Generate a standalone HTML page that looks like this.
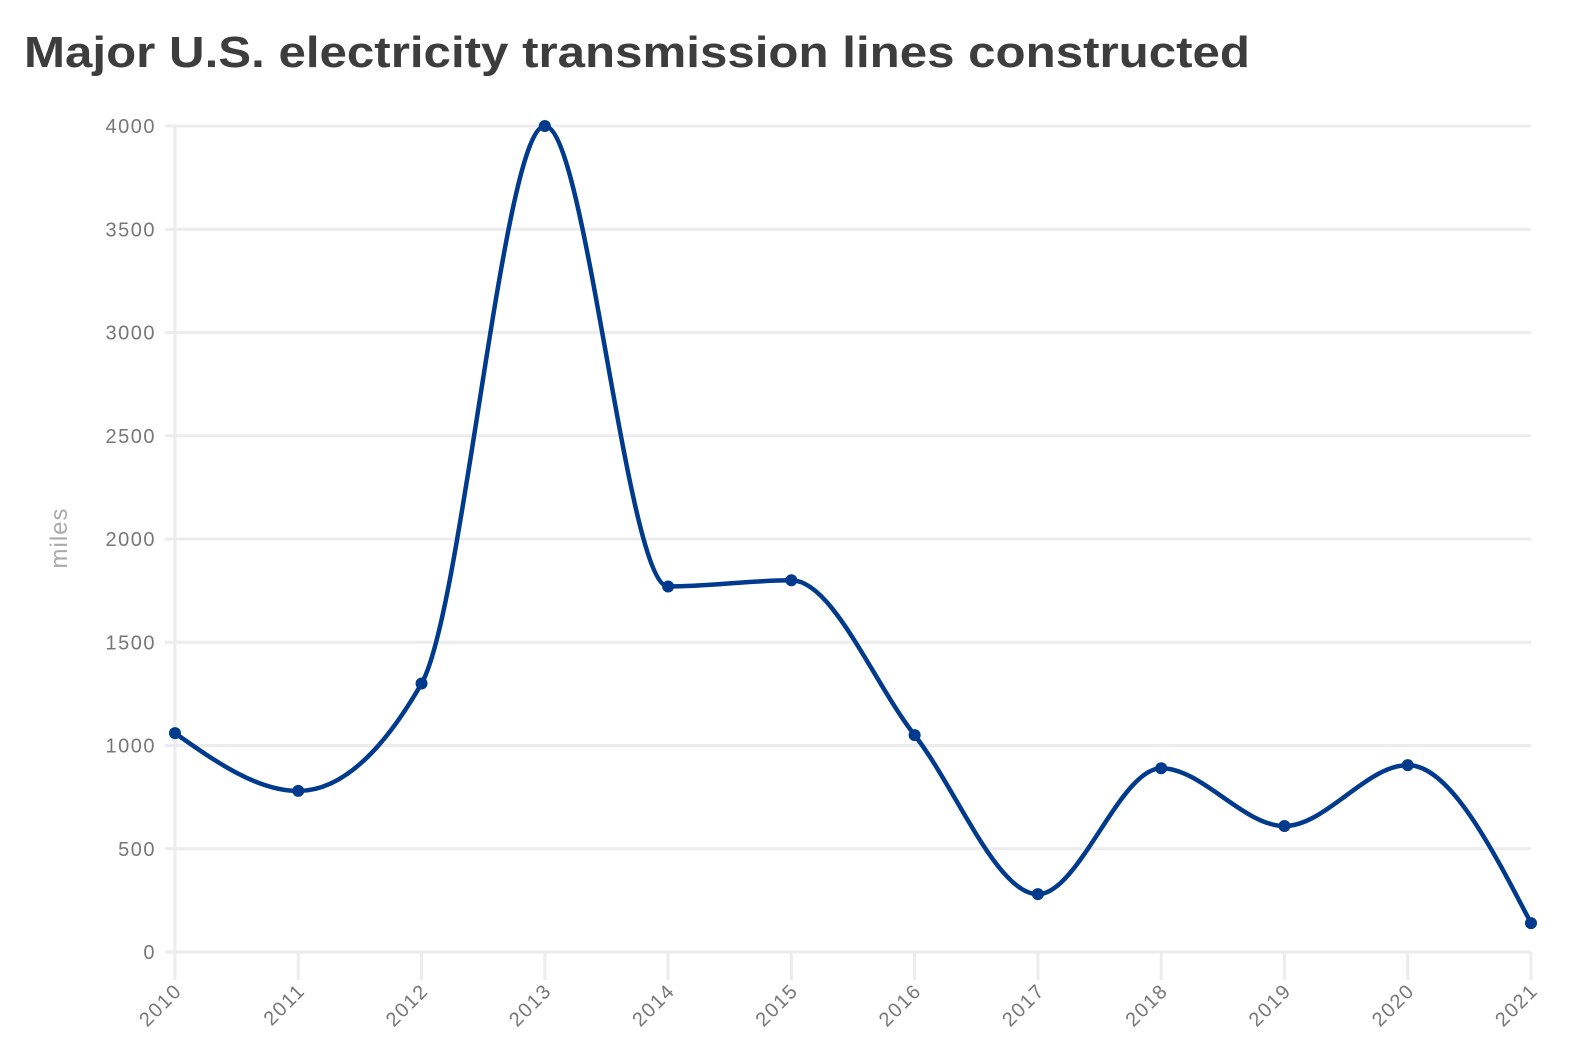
<!DOCTYPE html>
<html><head><meta charset="utf-8"><style>
html,body{margin:0;padding:0;background:#fff;}
svg{display:block;font-family:"Liberation Sans",sans-serif;}
</style></head><body>
<svg id="c" width="1592" height="1063" xmlns="http://www.w3.org/2000/svg">
<text x="24" y="67" font-size="44" font-weight="bold" fill="#3d3d3d" textLength="1226" lengthAdjust="spacingAndGlyphs">Major U.S. electricity transmission lines constructed</text>
<g id="grid" stroke="#ececec" stroke-width="3"></g>
<g id="ylab" font-size="20" fill="#777" text-anchor="end" letter-spacing="1.5"></g>
<g id="xlab" font-size="20" fill="#777" text-anchor="end" letter-spacing="1.5"></g>
<text transform="translate(67,538) rotate(-90)" font-size="24" fill="#aaa" text-anchor="middle" letter-spacing="1">miles</text>
<path id="line" fill="none" stroke="#003a8c" stroke-width="4.5"/>
<g id="pts" fill="#003a8c"></g>
</svg>
<script>
var ns="http://www.w3.org/2000/svg";
function el(t,a,p,txt){var e=document.createElementNS(ns,t);for(var k in a)e.setAttribute(k,a[k]);if(txt!=null)e.textContent=txt;document.getElementById(p).appendChild(e);return e;}
var x0=175,dx=(1531-175)/11,y0=952,k=826/4000;
function X(i){return x0+i*dx;}function Y(v){return y0-v*k;}
for(var v=0;v<=4000;v+=500){el('line',{x1:165,x2:1531,y1:Y(v),y2:Y(v)},'grid');el('text',{x:156,y:Y(v)+7},'ylab',v);}
el('line',{x1:175,x2:175,y1:126,y2:980},'grid');
for(var i=0;i<12;i++){el('line',{x1:X(i),x2:X(i),y1:952,y2:980},'grid');
el('text',{x:X(i)+8,y:992,transform:'rotate(-45 '+(X(i)+8)+' 992)'},'xlab',2010+i);}
var d=[1060,780,1300,4000,1770,1800,1050,280,890,610,905,140];
var px=d.map(function(v,i){return X(i)}),py=d.map(Y),n=d.length;
var s=[],m=[];for(i=0;i<n-1;i++)s.push((py[i+1]-py[i])/(px[i+1]-px[i]));
for(i=1;i<n-1;i++){if(s[i-1]*s[i]<=0)m[i]=0;else{var h0=px[i]-px[i-1],h1=px[i+1]-px[i];
var p=(s[i-1]*h1+s[i]*h0)/(h0+h1);m[i]=(Math.sign(s[i-1])+Math.sign(s[i]))*Math.min(Math.abs(s[i-1]),Math.abs(s[i]),0.5*Math.abs(p));}}
m[0]=(3*s[0]-m[1])/2;m[n-1]=(3*s[n-2]-m[n-2])/2;
var path='M'+px[0]+','+py[0];
for(i=0;i<n-1;i++){var h=(px[i+1]-px[i])/3;path+='C'+(px[i]+h)+','+(py[i]+h*m[i])+','+(px[i+1]-h)+','+(py[i+1]-h*m[i+1])+','+px[i+1]+','+py[i+1];}
document.getElementById('line').setAttribute('d',path);
for(i=0;i<n;i++)el('circle',{cx:px[i],cy:py[i],r:6},'pts');
</script>
</body></html>
